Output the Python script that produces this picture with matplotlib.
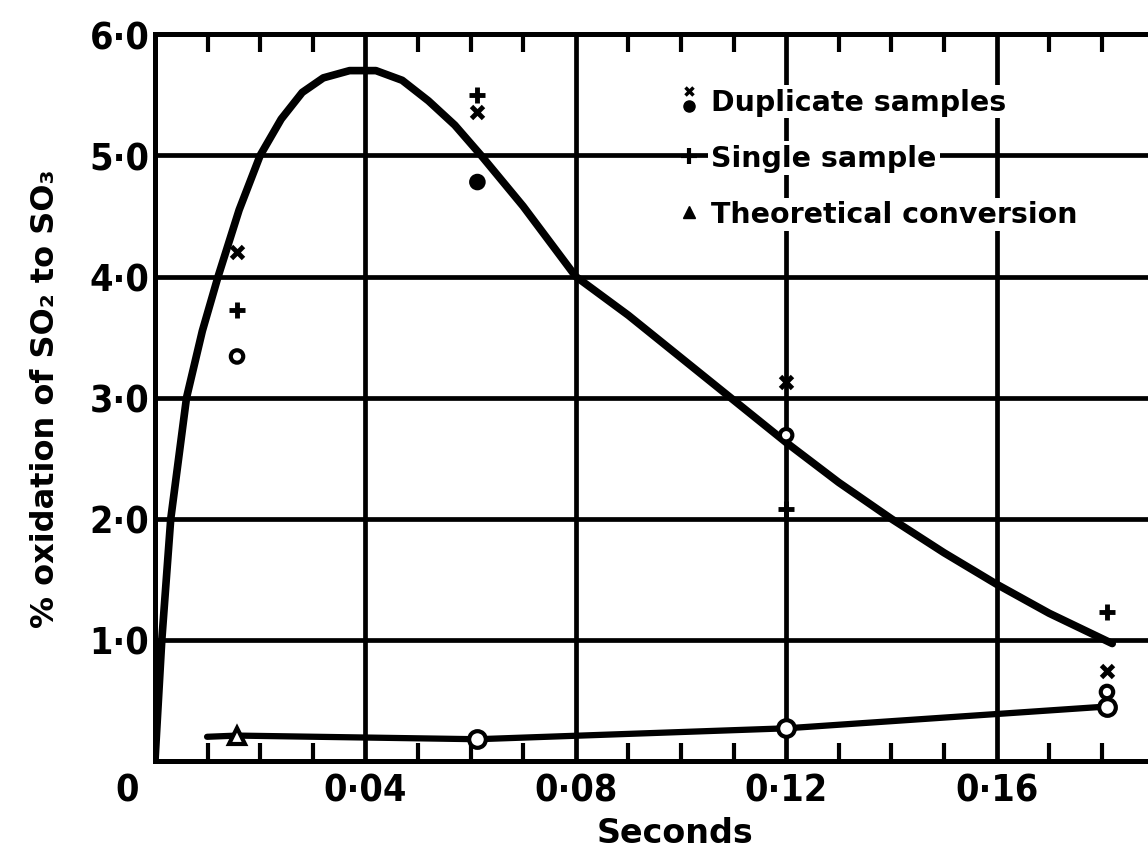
import numpy as np
import matplotlib
matplotlib.use("Agg")
import matplotlib.pyplot as plt
from matplotlib.lines import Line2D
from matplotlib.legend_handler import HandlerBase
from matplotlib import font_manager

# fitted curve (% oxidation vs seconds)
curve_x = [0, 0.0013, 0.003, 0.006, 0.009, 0.012, 0.016, 0.02, 0.024, 0.028, 0.032,
           0.037, 0.042, 0.047, 0.052, 0.057, 0.062, 0.07, 0.08, 0.09, 0.1, 0.11,
           0.12, 0.13, 0.14, 0.15, 0.16, 0.17, 0.182]
curve_y = [0, 1.0, 2.0, 3.0, 3.55, 4.0, 4.55, 5.0, 5.3, 5.52, 5.64,
           5.7, 5.7, 5.62, 5.45, 5.25, 5.0, 4.58, 4.0, 3.68, 3.33, 2.98,
           2.63, 2.3, 2.0, 1.72, 1.46, 1.22, 0.97]

# measured samples
sample_x = [0.0156, 0.0613, 0.12, 0.181]
dup_cross = [4.2, 5.36, 3.13, 0.74]
dup_circle = [3.34, 4.78, 2.69, 0.57]
single = [3.72, 5.5, 2.08, 1.23]

# theoretical conversion
theory_x = [0.0099, 0.0156, 0.0613, 0.12, 0.181]
theory_y = [0.2, 0.21, 0.18, 0.27, 0.45]

x_ticks = [0.04, 0.08, 0.12, 0.16]
x_ticklabels = ["0·04", "0·08", "0·12", "0·16"]
y_ticks = [1, 2, 3, 4, 5, 6]
y_ticklabels = ["1·0", "2·0", "3·0", "4·0", "5·0", "6·0"]

# look for a narrow bold face for the numbers
num_font = None
for f in font_manager.fontManager.ttflist:
    fn = f.fname.lower()
    if ("narrow" in fn or "condensed" in fn) and "bold" in fn and "oblique" not in fn and "italic" not in fn:
        num_font = font_manager.FontProperties(fname=f.fname)
        break
num_size = 27
if num_font is None:
    num_font = font_manager.FontProperties(family="DejaVu Sans", weight="bold")
    num_size = 22
num_font.set_size(num_size)

plt.rcParams["font.family"] = ["DejaVu Sans"]
plt.rcParams["font.weight"] = "bold"

fig = plt.figure(figsize=(11.48, 8.54), dpi=100)
ax = fig.add_axes([0.135, 0.1077, 0.865, 0.851])

lw_grid = 3.4
ax.set_xlim(0, 0.1888)
ax.set_ylim(0, 6)

for xv in x_ticks:
    ax.axvline(xv, color="black", lw=lw_grid, zorder=1)
for yv in y_ticks[:-1]:
    ax.axhline(yv, color="black", lw=lw_grid, zorder=1)

ax.plot(curve_x, curve_y, color="black", lw=5.5, solid_capstyle="round",
        solid_joinstyle="round", zorder=3)
ax.plot(theory_x, theory_y, color="black", lw=4.5, solid_capstyle="round", zorder=3)
ax.plot(theory_x[1:2], theory_y[1:2], linestyle="none", marker="^", ms=11,
        mfc="white", mec="black", mew=3, zorder=4)
ax.plot(theory_x[2:], theory_y[2:], linestyle="none", marker="o", ms=12,
        mfc="white", mec="black", mew=3, zorder=4)

ax.plot(sample_x, dup_cross, linestyle="none", marker="x", ms=9, mew=3.5,
        color="black", zorder=5)
ax.scatter(sample_x, dup_circle, s=80, facecolors=["white", "black", "white", "white"],
           edgecolors="black", linewidths=3, zorder=5)
ax.plot(sample_x, single, linestyle="none", marker="+", ms=12, mew=3.5,
        color="black", zorder=5)

for side in ["left", "top", "bottom"]:
    ax.spines[side].set_linewidth(3.6)
ax.spines["right"].set_visible(False)

ax.set_xticks(x_ticks)
ax.set_xticklabels(x_ticklabels, fontproperties=num_font)
ax.set_xticks(np.arange(0.01, 0.19, 0.01), minor=True)
ax.tick_params(axis="x", which="major", length=0, pad=8)
ax.tick_params(axis="x", which="minor", direction="in", top=True, bottom=True,
               length=13, width=3)
ax.set_yticks(y_ticks)
ax.set_yticklabels(y_ticklabels, fontproperties=num_font)
ax.tick_params(axis="y", length=0, pad=4)

ax.annotate("0", xy=(0, 0), xycoords="data", xytext=(-20, -8),
            textcoords="offset points", ha="center", va="top",
            fontproperties=num_font)

ax.set_xlabel("Seconds", fontsize=24, fontweight="bold")
ax.xaxis.set_label_coords(0.524, -0.075)
ax.set_ylabel("% oxidation of SO₂ to SO₃", fontsize=23, fontweight="bold")
ax.yaxis.set_label_coords(-0.095, 0.5)


class StackedHandler(HandlerBase):
    def create_artists(self, legend, orig_handle, xdescent, ydescent, width,
                       height, fontsize, trans):
        cx = width / 2 - xdescent
        top = Line2D([cx], [height * 0.95 - ydescent], linestyle="none", marker="x",
                     ms=6, mew=2.5, color="black", transform=trans)
        bot = Line2D([cx], [height * 0.2 - ydescent], linestyle="none", marker="o",
                     ms=8, color="black", transform=trans)
        return [top, bot]


dup_handle = Line2D([], [])
single_handle = Line2D([], [], linestyle="none", marker="+", ms=11, mew=3, color="black")
theory_handle = Line2D([], [], linestyle="none", marker="^", ms=8, color="black")
leg = ax.legend([dup_handle, single_handle, theory_handle],
                ["Duplicate samples", "Single sample", "Theoretical conversion"],
                handler_map={dup_handle: StackedHandler()},
                loc="upper left", bbox_to_anchor=(0.5, 0.962), frameon=False,
                prop={"size": 20.5, "weight": "bold"}, handlelength=0.8,
                handletextpad=0.4, labelspacing=1.0)
leg.set_zorder(6)
for t in leg.get_texts():
    t.set_bbox(dict(facecolor="white", edgecolor="none", pad=2))

fig.savefig("out.png", dpi=100, facecolor="white")
